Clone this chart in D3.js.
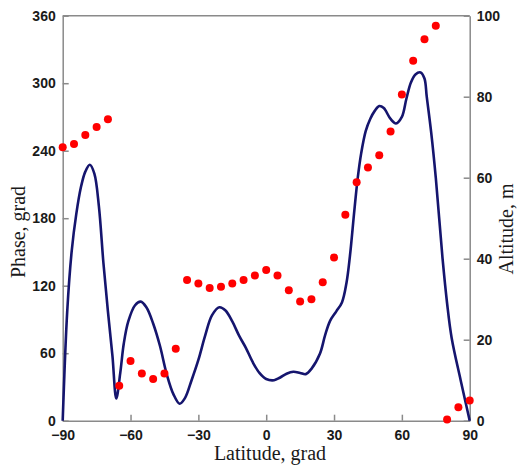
<!DOCTYPE html>
<html><head><meta charset="utf-8">
<script src="https://cdn.jsdelivr.net/npm/d3@7"></script>
<style>body{margin:0;background:#fff}</style>
</head><body>
<script>
// Phase dots (left axis, grad) at latitude
const phaseLat = [-90,-85,-80,-75,-70,-65,-60,-55,-50,-45,-40,-35,-30,-25,-20,-15,-10,-5,0,5,10,15,20,25,30,35,40,45,50,55,60,65,70,75,80,85,90];
const phaseVal = [243,246,254,261,268,31,53,42,37,42,64,125,122,118,119,122,125,129,134,129,116,106,108,123,145,183,212,225,236,257,290,320,339,351,1,12,18];
// Altitude curve (right axis, m)
const altLat = [-90,-88,-86,-84,-82,-80,-78,-76,-74,-72,-70,-68,-66.3,-64.5,-63,-61,-58,-55.5,-53,-50,-47,-44,-41,-38.3,-36,-33,-30,-27,-24,-20.7,-18,-15,-12,-9,-6,-3,0,3.5,6,9,12,15,17.5,20,23.8,26,28.2,31,33.5,35.5,37,39,40.5,42,44,46,48,50,52,55,57.4,60,62,64,66,68.3,70,71,73,75,78,80,82,86,90];
const altVal = [0,27,42,51,57.5,61.5,63.2,61,53,39,27,16,5.5,12,19,24.5,28.5,29.4,28,24,18.5,11.5,6.5,4.2,5.5,10,15,21,26,28,27.2,24.5,21,18,14.5,11.8,10.3,10,10.6,11.6,12.1,11.8,11.5,12.8,16.6,21,24.6,27,29.2,34,40.5,52,60,66,71.5,74.5,76.5,77.7,77.2,74.5,73.4,75,79.5,83.5,85.5,86,84.5,80,71,60,40,29,20.5,10,0];
const xTicks = [-90,-60,-30,0,30,60,90];
const yLeftTicks = [0,60,120,180,240,300,360];
const yRightTicks = [0,20,40,60,80,100];

const W = 517, H = 465;
const L = 62.7, R = 469.7, T = 15.7, B = 420.7;
const svg = d3.select("body").append("svg").attr("width", W).attr("height", H);

const x = d3.scaleLinear().domain([-90, 90]).range([L, R]);
const yL = d3.scaleLinear().domain([0, 360]).range([B, T]);
const yR = d3.scaleLinear().domain([0, 100]).range([B, T]);

const axisColor = "#8a8a8a";
function style(g) {
  g.selectAll(".domain").attr("stroke", axisColor).attr("stroke-width", 1.5);
  g.selectAll(".tick line").attr("stroke", axisColor).attr("stroke-width", 1.5);
  g.selectAll(".tick text").attr("fill", "#1a1a1a")
    .style("font-family", "'Liberation Sans', Arial, sans-serif")
    .style("font-weight", "bold").style("font-size", "14px");
}

svg.append("g").attr("transform", `translate(0,${B})`)
  .call(d3.axisBottom(x).tickValues(xTicks).tickSizeInner(-6).tickSizeOuter(0).tickPadding(9).tickFormat(d3.format("d")))
  .call(style);
svg.append("g").attr("transform", `translate(${L},0)`)
  .call(d3.axisLeft(yL).tickValues(yLeftTicks).tickSizeInner(-6).tickSizeOuter(0).tickPadding(7).tickFormat(d3.format("d")))
  .call(style);
svg.append("g").attr("transform", `translate(${R},0)`)
  .call(d3.axisRight(yR).tickValues(yRightTicks).tickSizeInner(-6).tickSizeOuter(0).tickPadding(7).tickFormat(d3.format("d")))
  .call(style);
svg.append("line").attr("x1", L).attr("x2", R).attr("y1", T).attr("y2", T)
  .attr("stroke", axisColor).attr("stroke-width", 1.5);

// curve
const line = d3.line().x(d => x(d[0])).y(d => yR(d[1])).curve(d3.curveCatmullRom.alpha(0.5));
svg.append("path").datum(altLat.map((v, i) => [v, altVal[i]]))
  .attr("d", line).attr("fill", "none").attr("stroke", "#15156e").attr("stroke-width", 2.6);

// dots
svg.append("g").selectAll("circle").data(phaseLat.map((v, i) => [v, phaseVal[i]]))
  .join("circle").attr("cx", d => x(d[0])).attr("cy", d => yL(d[1])).attr("r", 4).attr("fill", "#ff0000");

const serif = "'Liberation Serif', 'Times New Roman', serif";
svg.append("text").attr("x", 270).attr("y", 460).attr("text-anchor", "middle")
  .style("font-family", serif).style("font-size", "20px").attr("fill", "#1a1a1a").text("Latitude, grad");
svg.append("text").attr("transform", `translate(25,232) rotate(-90)`).attr("text-anchor", "middle")
  .style("font-family", serif).style("font-size", "20px").attr("fill", "#1a1a1a").text("Phase, grad");
svg.append("text").attr("transform", `translate(513,229) rotate(-90)`).attr("text-anchor", "middle")
  .style("font-family", serif).style("font-size", "20px").attr("fill", "#1a1a1a").text("Altitude, m");
</script>
</body></html>
